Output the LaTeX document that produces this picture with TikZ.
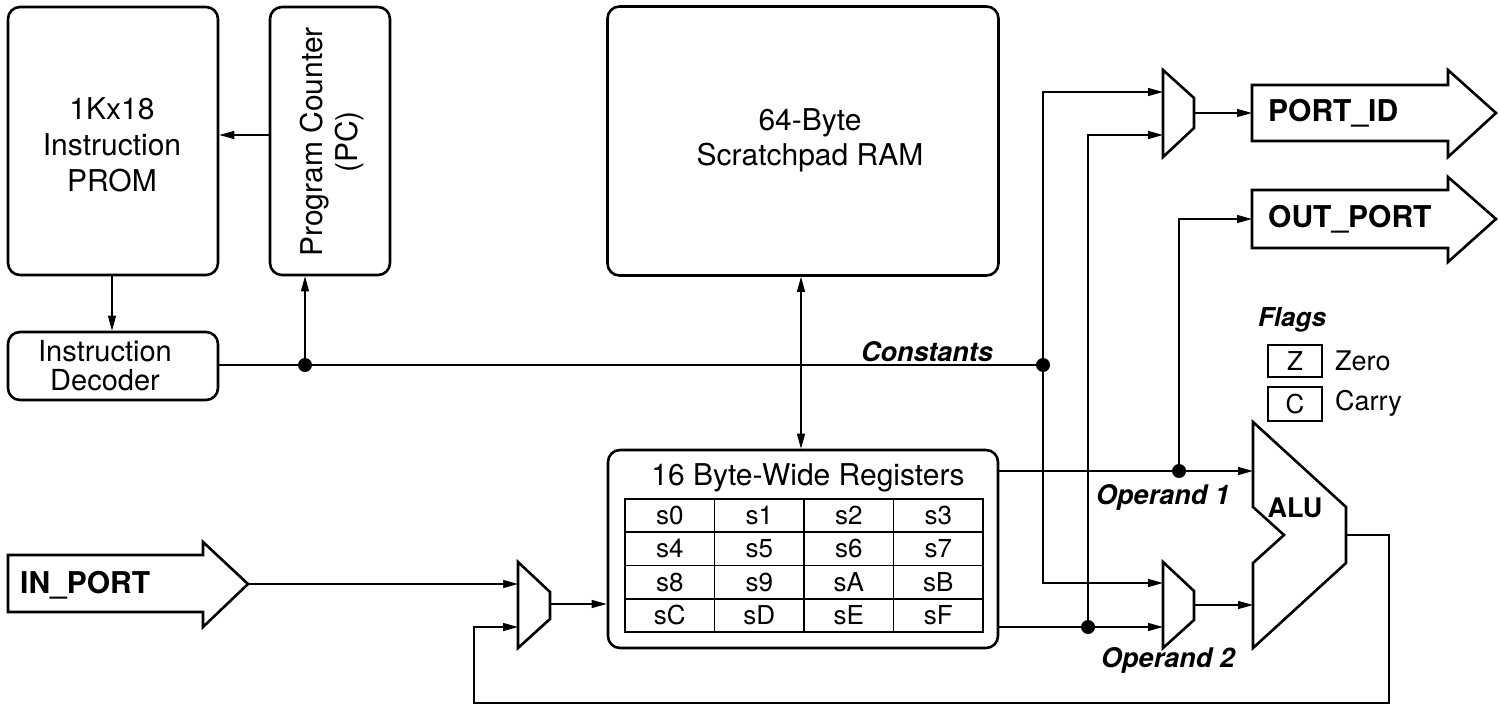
\documentclass[tikz,border=0pt]{standalone}
\usepackage{fontspec}
\setmainfont{TeX Gyre Heros}
\usetikzlibrary{arrows.meta}
\begin{document}
\begin{tikzpicture}[x=1pt,y=-1pt,
  blk/.style={draw,line width=2.6pt,rounded corners=12pt,inner sep=0pt},
  shp/.style={draw,line width=2.6pt,line join=miter},
  wire/.style={line width=1.2pt},
  arr/.style={wire,-{Triangle[length=15pt,width=8pt]}},
  darr/.style={wire,{Triangle[length=15pt,width=8pt]}-{Triangle[length=15pt,width=8pt]}},
  dot/.style={circle,fill,inner sep=0pt,minimum size=14pt},
  txt/.style={font=\fontsize{30}{36}\selectfont,align=center,inner sep=0pt},
  btxt/.style={font=\fontsize{30}{36}\selectfont\bfseries,inner sep=0pt},
  itxt/.style={font=\fontsize{27}{30}\selectfont\bfseries\itshape,inner sep=0pt},
  reg/.style={draw,line width=1.8pt,minimum width=89.5pt,minimum height=33.25pt,inner sep=0pt,font=\fontsize{26}{30}\selectfont},
  flag/.style={draw,line width=2pt,minimum width=54pt,minimum height=32pt,inner sep=0pt,font=\fontsize{26}{30}\selectfont}
]
\useasboundingbox (0,0) rectangle (1499,714);

% main blocks
\node[blk,minimum width=210pt,minimum height=268pt] (prom) at (113,141) {};
\node[txt] (promt) at (112,145) {1Kx18\\Instruction\\PROM};
\node[blk,minimum width=120pt,minimum height=268pt] (pc) at (330,141) {};
\node[txt,rotate=90,font=\fontsize{30}{35}\selectfont] (pct) at (332,142) {Program Counter\\(PC)};
\node[blk,minimum width=210pt,minimum height=68pt] (dec) at (113,366) {};
\node[txt,font=\fontsize{29}{29}\selectfont] (dect) at (105,366) {Instruction\\Decoder};
\node[blk,minimum width=391pt,minimum height=269pt] (ram) at (803,141) {};
\node[txt,font=\fontsize{30}{35}\selectfont] (ramt) at (810,140) {64-Byte\\Scratchpad RAM};
\node[blk,minimum width=390pt,minimum height=198pt] (regs) at (803,549) {};
\node[txt] (regt) at (808,478) {16 Byte-Wide Registers};
\foreach \t [count=\i from 0] in {s0,s1,s2,s3,s4,s5,s6,s7,s8,s9,sA,sB,sC,sD,sE,sF}{
  \pgfmathtruncatemacro{\c}{mod(\i,4)}
  \pgfmathtruncatemacro{\r}{int(\i/4)}
  \node[reg] (r\t) at ({625+89.5*\c+44.75},{499+33.25*\r+16.6}) {\t};
}

% big port arrows
\draw[shp] (8,555) -- (203,555) -- (203,542) -- (248,584) -- (203,627) -- (203,612) -- (8,612) -- cycle;
\coordinate (inport) at (248,584);
\node[btxt,anchor=west] (inportt) at (20,585) {IN\_PORT};
\draw[shp] (1252,85) -- (1448,85) -- (1448,70) -- (1496,113) -- (1448,157) -- (1448,141) -- (1252,141) -- cycle;
\coordinate (portid) at (1252,113);
\node[btxt,anchor=west] (portidt) at (1268,113) {PORT\_ID};
\draw[shp] (1252,190) -- (1448,190) -- (1448,177) -- (1496,219) -- (1448,262) -- (1448,248) -- (1252,248) -- cycle;
\coordinate (outport) at (1252,219);
\node[btxt,anchor=west] (outportt) at (1268,219) {OUT\_PORT};

% multiplexers
\draw[shp] (1163,70) -- (1194,98) -- (1194,128) -- (1163,157) -- cycle;
\coordinate (m1a) at (1163,92); \coordinate (m1b) at (1163,135); \coordinate (m1o) at (1194,113);
\draw[shp] (1163,562) -- (1194,591) -- (1194,620) -- (1163,648) -- cycle;
\coordinate (m2a) at (1163,583); \coordinate (m2b) at (1163,627); \coordinate (m2o) at (1194,605);
\draw[shp] (518,562) -- (550,592) -- (550,619) -- (518,648) -- cycle;
\coordinate (m3a) at (518,584); \coordinate (m3b) at (518,627); \coordinate (m3o) at (550,604);

% ALU
\draw[shp] (1253,422) -- (1346,507) -- (1346,563) -- (1253,648) -- (1253,563) -- (1284,535) -- (1253,507) -- cycle;
\coordinate (alua) at (1253,471); \coordinate (alub) at (1253,605); \coordinate (aluo) at (1346,535);
\node[btxt,font=\fontsize{27}{30}\selectfont\bfseries] (alut) at (1295,508) {ALU};

% flags
\node[itxt,font=\fontsize{26}{30}\selectfont\bfseries\itshape] (flagst) at (1292,320) {Flags};
\node[flag] (zf) at (1295,361) {Z};
\node[flag,minimum height=34pt] (cf) at (1295,404) {C};
\node[txt,font=\fontsize{27}{30}\selectfont,anchor=west] (zt) at (1335,361) {Zero};
\node[txt,font=\fontsize{27}{30}\selectfont,anchor=west] (ct) at (1335,403) {Carry};

% labels
\node[itxt] (constt) at (927,352) {Constants};
\node[itxt] (op1t) at (1163,497) {Operand 1};
\node[itxt] (op2t) at (1168,660) {Operand 2};

% dots
\node[dot] (d1) at (305,365) {};
\node[dot] (d2) at (1043,365) {};
\node[dot] (d3) at (1179,471) {};
\node[dot] (d4) at (1088,627) {};

% connectors
\draw[arr] (pc.west |- 0,135) -- (prom.east |- 0,135);
\draw[arr] (prom.south -| 112,0) -- (dec.north -| 112,0);
\draw[wire] (dec.east |- d1) -- (d1.center) -- (d2.center);
\draw[arr] (d1.center) -- (pc.south -| d1);
\draw[darr] (ram.south -| 801,0) -- (regs.north -| 801,0);
\draw[arr] (d2.center) |- (m1a);
\draw[arr] (d2.center) |- (m2a);
\draw[arr] (regs.east |- alua) -- (alua);
\draw[arr] (d3.center) |- (outport);
\draw[arr] (regs.east |- m2b) -- (m2b);
\draw[arr] (d4.center) |- (m1b);
\draw[arr] (m1o) -- (portid);
\draw[arr] (m2o) -- (alub);
\draw[arr] (aluo) -- (1389,535) -- (1389,703) -- (474,703) -- (474,627) -- (m3b);
\draw[arr] (inport) -- (m3a);
\draw[arr] (m3o) -- (regs.west |- m3o);
\end{tikzpicture}
\end{document}
